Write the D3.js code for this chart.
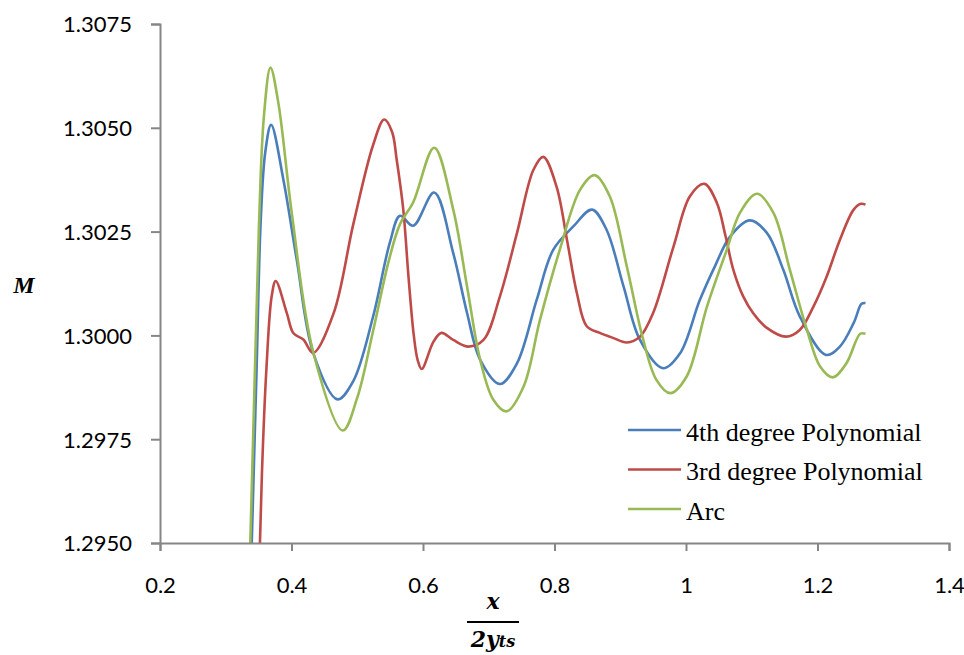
<!DOCTYPE html>
<html>
<head>
<meta charset="utf-8">
<script src="https://cdn.jsdelivr.net/npm/d3@7"></script>
<style>
  body { margin: 0; background: #fff; }
  .tick text { font-family: Lato, "Open Sans", sans-serif; font-size: 22px; fill: #000; }
  .serif { font-family: "Liberation Serif", "Times New Roman", serif; }
  .legend text { font-size: 26px; fill: #000; }
</style>
</head>
<body>
<script>
// values: [x/(2y_ts), M]
const poly4 = [
  [0.336, 1.2930], [0.347, 1.29924], [0.353, 1.30269], [0.360, 1.30440], [0.369, 1.30507],
  [0.388, 1.30372], [0.408, 1.30182], [0.433, 1.29958], [0.470, 1.29846], [0.494, 1.29890],
  [0.524, 1.30045], [0.550, 1.30226], [0.565, 1.30288], [0.585, 1.30264], [0.617, 1.30344],
  [0.646, 1.30198], [0.667, 1.30054], [0.687, 1.29941], [0.717, 1.29883], [0.743, 1.29933],
  [0.773, 1.30086], [0.798, 1.30206], [0.829, 1.30263], [0.857, 1.30303], [0.879, 1.30255],
  [0.905, 1.30118], [0.930, 1.29989], [0.965, 1.29921], [0.991, 1.29957], [1.021, 1.30085],
  [1.045, 1.30170], [1.067, 1.30238], [1.097, 1.30277], [1.123, 1.30247], [1.148, 1.30158],
  [1.173, 1.30046], [1.213, 1.29953], [1.234, 1.29973], [1.255, 1.30030], [1.267, 1.30076],
  [1.273, 1.30078]
];
const poly3 = [
  [0.349, 1.2930], [0.355, 1.29666], [0.362, 1.29924], [0.370, 1.30096], [0.376, 1.30131],
  [0.393, 1.30053], [0.403, 1.30005], [0.418, 1.29990], [0.433, 1.29958], [0.464, 1.30053],
  [0.494, 1.30268], [0.524, 1.30458], [0.541, 1.30520], [0.553, 1.30490], [0.560, 1.30423],
  [0.570, 1.30303], [0.578, 1.30140], [0.586, 1.30000], [0.592, 1.29940], [0.598, 1.29919],
  [0.616, 1.29985], [0.628, 1.30006], [0.646, 1.29989], [0.669, 1.29973], [0.692, 1.29989],
  [0.717, 1.30094], [0.743, 1.30247], [0.768, 1.30399], [0.783, 1.30430], [0.803, 1.30359],
  [0.819, 1.30230], [0.834, 1.30102], [0.849, 1.30022], [0.869, 1.30006], [0.889, 1.29994],
  [0.910, 1.29983], [0.930, 1.29997], [0.950, 1.30054], [0.981, 1.30214], [1.006, 1.30335],
  [1.028, 1.30365], [1.047, 1.30319], [1.060, 1.30240], [1.072, 1.30158], [1.087, 1.30094],
  [1.102, 1.30054], [1.123, 1.30018], [1.152, 1.29997], [1.173, 1.30013], [1.194, 1.30070],
  [1.214, 1.30142], [1.234, 1.30230], [1.255, 1.30303], [1.266, 1.30317], [1.273, 1.30315]
];
const arc = [
  [0.334, 1.2930], [0.3445, 1.29924], [0.3506, 1.30269], [0.358, 1.30527], [0.368, 1.30645],
  [0.380, 1.30560], [0.400, 1.30300], [0.433, 1.29960], [0.478, 1.29771], [0.500, 1.29850],
  [0.524, 1.30010], [0.548, 1.30180], [0.565, 1.30268], [0.585, 1.30320], [0.617, 1.30452],
  [0.646, 1.30303], [0.667, 1.30118], [0.687, 1.29941], [0.707, 1.29845], [0.727, 1.29817],
  [0.753, 1.29877], [0.778, 1.30038], [0.808, 1.30206], [0.839, 1.30351], [0.861, 1.30386],
  [0.884, 1.30335], [0.910, 1.30166], [0.935, 1.29989], [0.955, 1.29893], [0.976, 1.29861],
  [1.001, 1.29901], [1.032, 1.30070], [1.062, 1.30206], [1.082, 1.30295], [1.108, 1.30341],
  [1.133, 1.30295], [1.158, 1.30158], [1.184, 1.30013], [1.204, 1.29925], [1.223, 1.29899],
  [1.244, 1.29933], [1.265, 1.30004], [1.273, 1.30004]
];
const seriesNames = ['4th degree Polynomial', '3rd degree Polynomial', 'Arc'];
const seriesColors = ['#4a7ebb', '#be4b48', '#98b954'];
const xTicks = [0.2, 0.4, 0.6, 0.8, 1, 1.2, 1.4];
const yTicks = [1.2950, 1.2975, 1.3000, 1.3025, 1.3050, 1.3075];

const W = 964, H = 655;
const M = { left: 160, top: 24 };
const innerW = 949 - M.left, innerH = 543 - M.top;

const svg = d3.select('body').append('svg')
  .attr('width', W)
  .attr('height', H);

const x = d3.scaleLinear().domain([0.2, 1.4]).range([0, innerW]);
const y = d3.scaleLinear().domain([1.2950, 1.3075]).range([innerH, 0]);

const canvas = svg.append('g')
  .attr('transform', `translate(${M.left},${M.top})`);

svg.append('defs').append('clipPath').attr('id', 'clip')
  .append('rect').attr('x', 0).attr('y', -5).attr('width', innerW).attr('height', innerH + 5);

const line = d3.line()
  .x(d => x(d[0]))
  .y(d => y(d[1]))
  .curve(d3.curveCatmullRom.alpha(0.5));

const plot = canvas.append('g').attr('clip-path', 'url(#clip)');
[poly4, poly3, arc].forEach((s, i) => {
  plot.append('path')
    .datum(s)
    .attr('d', line)
    .attr('fill', 'none')
    .attr('stroke', seriesColors[i])
    .attr('stroke-width', 2.6)
    .attr('stroke-linejoin', 'round');
});

const xAxis = d3.axisBottom(x).tickValues(xTicks).tickFormat(d3.format('')).tickSize(8);
const yAxis = d3.axisLeft(y).tickValues(yTicks).tickFormat(d3.format('.4f')).tickSize(9).tickPadding(19);

const xAxisGroup = canvas.append('g')
  .attr('transform', `translate(0,${innerH})`)
  .call(xAxis);
const yAxisGroup = canvas.append('g').call(yAxis);

[xAxisGroup, yAxisGroup].forEach(g => {
  g.select('.domain').attr('stroke', '#868686').attr('stroke-width', 2);
  g.selectAll('.tick line').attr('stroke', '#868686').attr('stroke-width', 2);
});
xAxisGroup.selectAll('.tick text').attr('y', 50).attr('dy', 0);
yAxisGroup.selectAll('.tick text').attr('dy', '0.36em');

// axis titles
svg.append('text')
  .attr('class', 'serif')
  .attr('x', 24).attr('y', 293)
  .attr('text-anchor', 'middle')
  .style('font-weight', 'bold').style('font-style', 'italic')
  .style('font-size', '24px')
  .text('M');

const xt = svg.append('g').attr('transform', 'translate(493,0)')
  .style('font-family', '"DejaVu Serif", serif')
  .style('font-weight', 'bold').style('font-style', 'italic');
xt.append('text').attr('x', 0).attr('y', 609).attr('text-anchor', 'middle')
  .style('font-size', '22px').text('x');
xt.append('line').attr('x1', -26).attr('x2', 26).attr('y1', 622).attr('y2', 622)
  .attr('stroke', '#000').attr('stroke-width', 2.2);
const den = xt.append('text').attr('x', 0).attr('y', 647).attr('text-anchor', 'middle')
  .style('font-size', '22px');
den.append('tspan').text('2y');
den.append('tspan').style('font-size', '16px').text('ts');

// legend
const legend = svg.append('g').attr('class', 'legend serif');
seriesNames.forEach((name, i) => {
  const ly = 430 + i * 39.5;
  legend.append('line')
    .attr('x1', 628).attr('x2', 681).attr('y1', ly).attr('y2', ly)
    .attr('stroke', seriesColors[i]).attr('stroke-width', 2.6);
  legend.append('text')
    .attr('x', 686).attr('y', ly + 10.5)
    .text(name);
});
</script>
</body>
</html>
